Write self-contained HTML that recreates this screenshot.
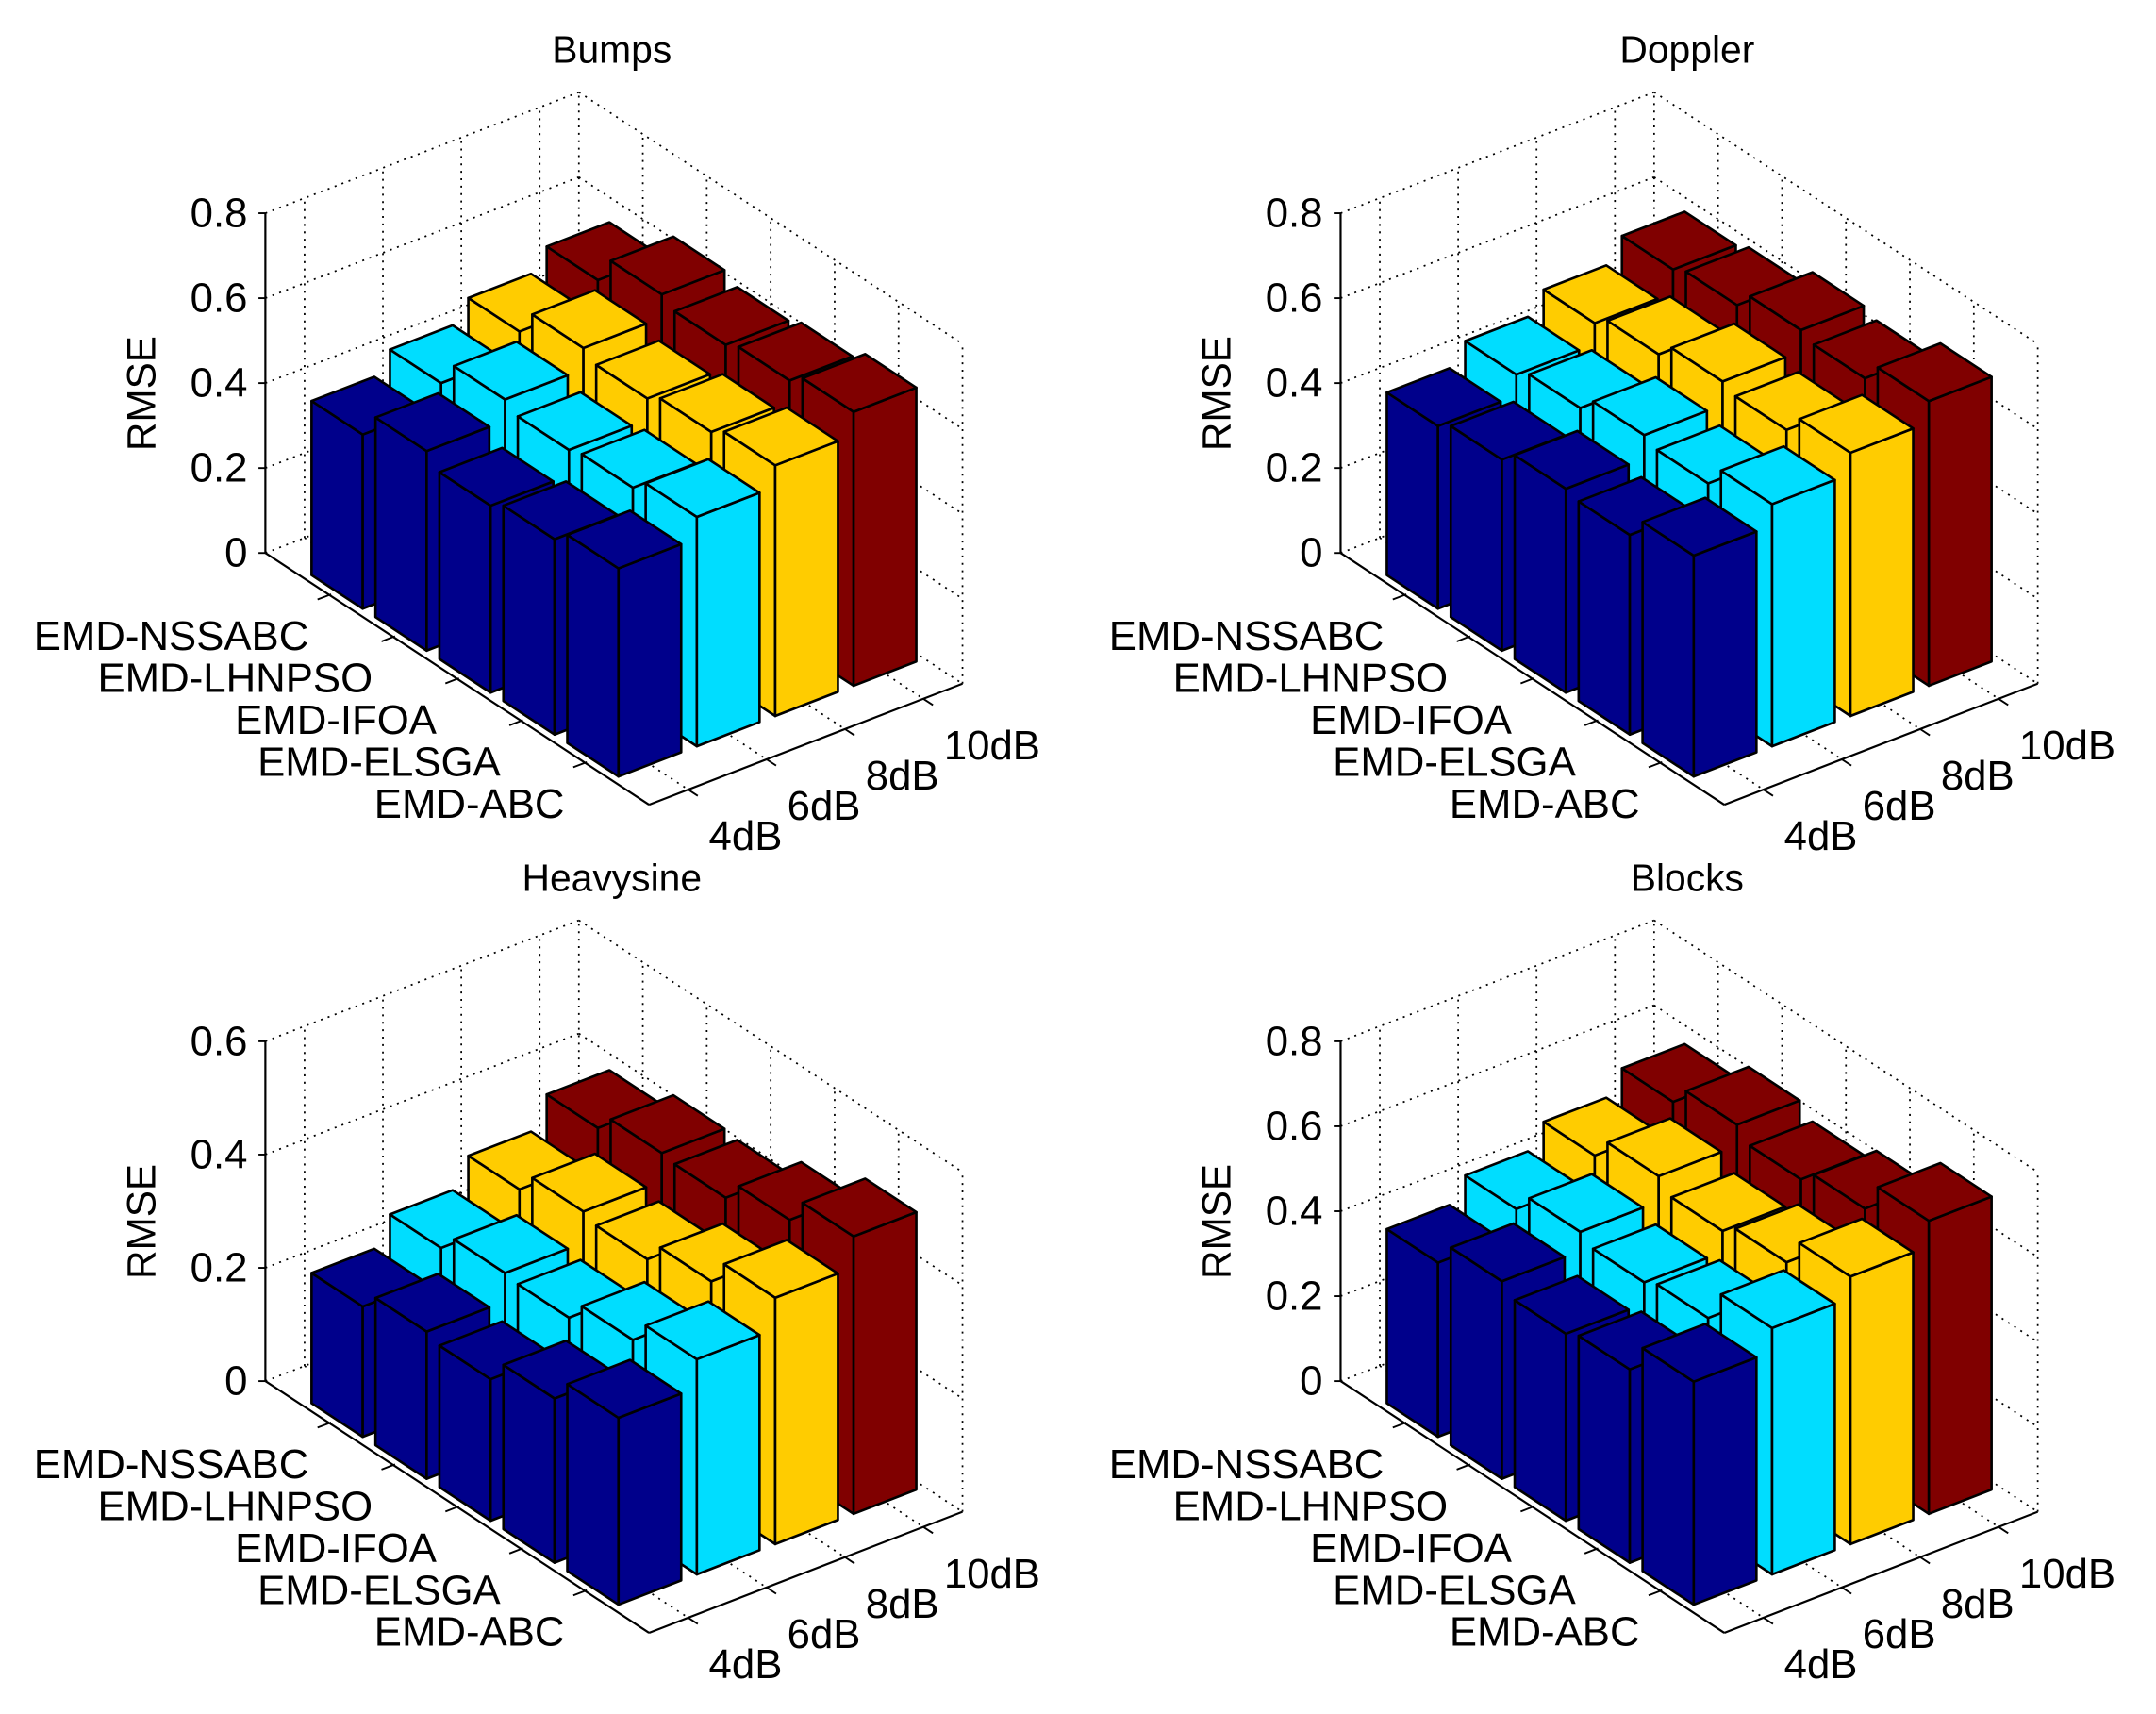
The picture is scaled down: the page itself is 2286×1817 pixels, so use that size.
<!DOCTYPE html>
<html><head><meta charset="utf-8">
<style>
html,body{margin:0;padding:0;background:#fff;}
svg{display:block;}
text{font-family:"Liberation Sans",Arial,sans-serif;fill:#000;}
</style></head>
<body>
<svg id="fig" xmlns="http://www.w3.org/2000/svg" width="2286" height="1817" viewBox="0 0 1568 1246" preserveAspectRatio="none">
<rect x="0" y="0" width="1568" height="1246" fill="#fff"/>
</svg>
<script>
const methods = ["EMD-NSSABC","EMD-LHNPSO","EMD-IFOA","EMD-ELSGA","EMD-ABC"];
const dbLabels = ["4dB","6dB","8dB","10dB"];
const panelTitles = ["Bumps","Doppler","Heavysine","Blocks"];
const zMaxes = [0.8, 0.8, 0.6, 0.8];
const zTicksA = [0, 0.2, 0.4, 0.6, 0.8];
const zTicksB = [0, 0.2, 0.4, 0.6];

const bumps4dB  = [0.41, 0.47, 0.44, 0.46, 0.49];
const bumps6dB  = [0.46, 0.52, 0.50, 0.51, 0.54];
const bumps8dB  = [0.51, 0.57, 0.55, 0.57, 0.59];
const bumps10dB = [0.56, 0.625, 0.605, 0.62, 0.645];

const doppler4dB  = [0.43, 0.45, 0.48, 0.47, 0.52];
const doppler6dB  = [0.48, 0.50, 0.535, 0.52, 0.57];
const doppler8dB  = [0.53, 0.555, 0.59, 0.575, 0.62];
const doppler10dB = [0.585, 0.60, 0.64, 0.625, 0.67];

const heavy4dB  = [0.23, 0.26, 0.25, 0.29, 0.33];
const heavy6dB  = [0.28, 0.31, 0.305, 0.34, 0.38];
const heavy8dB  = [0.33, 0.365, 0.355, 0.39, 0.435];
const heavy10dB = [0.385, 0.415, 0.41, 0.445, 0.49];

const blocks4dB  = [0.41, 0.465, 0.44, 0.455, 0.525];
const blocks6dB  = [0.465, 0.51, 0.49, 0.505, 0.58];
const blocks8dB  = [0.52, 0.57, 0.54, 0.565, 0.63];
const blocks10dB = [0.575, 0.62, 0.59, 0.62, 0.69];

const panelSeries = [
  [bumps4dB, bumps6dB, bumps8dB, bumps10dB],
  [doppler4dB, doppler6dB, doppler8dB, doppler10dB],
  [heavy4dB, heavy6dB, heavy8dB, heavy10dB],
  [blocks4dB, blocks6dB, blocks8dB, blocks10dB]
];
const colors = ["#00008B", "#00DDFF", "#FFCC00", "#800000"];

const NS = "http://www.w3.org/2000/svg";
const svg = document.getElementById("fig");
const offsets = [[0,0],[782,0],[0,602],[782,602]];

function mk(tag, attrs, parent){
  const e = document.createElementNS(NS, tag);
  for (const k in attrs) e.setAttribute(k, attrs[k]);
  parent.appendChild(e);
  return e;
}

offsets.forEach((off, pi) => {
  const ox = off[0], oy = off[1];
  const zmax = zMaxes[pi];
  const g = mk("g", {}, svg);
  
  
  function P(m, d, z){
    return [ox + 193 + 46.5*m + 57*(d-0.5), oy + 402 + 30.5*m - 22*(d-0.5) - 247*(z/zmax)];
  }
  function line(a, b, dotted, w){
    const l = mk("line", {x1:a[0], y1:a[1], x2:b[0], y2:b[1], stroke:"#000", "stroke-width": w||1.2}, g);
    if (dotted) l.setAttribute("stroke-dasharray", "1.4,4");
    return l;
  }
  const ticks = zmax > 0.7 ? zTicksA : zTicksB;
  ticks.forEach(t => { line(P(0,0.5,t), P(0,4.5,t), true); line(P(0,4.5,t), P(6,4.5,t), true); });
  for (let d = 1; d <= 4; d++) line(P(0,d,0), P(0,d,zmax), true);
  line(P(0,4.5,0), P(0,4.5,zmax), true);
  for (let m = 1; m <= 6; m++) line(P(m,4.5,0), P(m,4.5,zmax), true);
  for (let m = 1; m <= 5; m++) line(P(m,0.5,0), P(m,4.5,0), true);
  for (let d = 1; d <= 4; d++) line(P(0,d,0), P(6,d,0), true);
  const zax = line(P(0,0.5,0), P(0,0.5,zmax), false, 1.5);
  
  
  const max = line(P(0,0.5,0), P(6,0.5,0), false, 1.5);
  
  
  const dax = line(P(6,0.5,0), P(6,4.5,0), false, 1.5);
  
  
  ticks.forEach(t => {
    const p = P(0,0.5,t);
    line([p[0]-5,p[1]], p, false, 1.3);
    const tx = mk("text", {x:p[0]-13, y:p[1], "font-size":30, "text-anchor":"end", "dominant-baseline":"central"}, g);
    tx.textContent = (t === 0) ? "0" : t.toFixed(1);
    
    
  });
  methods.forEach((name, i) => {
    const m = i + 1;
    const p = P(m,0.5,0), q = P(m,0.35,0);
    line(p, q, false, 1.3);
    const tx = mk("text", {x:p[0]-15, y:p[1]+30, "font-size":30, "text-anchor":"end", "dominant-baseline":"central"}, g);
    tx.textContent = name;
    
    
  });
  dbLabels.forEach((name, j) => {
    const d = j + 1;
    const p = P(6,d,0), q = P(6.15,d,0);
    line(p, q, false, 1.3);
    const tx = mk("text", {x:p[0]+15, y:p[1]+34, "font-size":30, "text-anchor":"start", "dominant-baseline":"central"}, g);
    tx.textContent = name;
    
    
  });
  const yl = mk("text", {x:0, y:0, "font-size":29, "text-anchor":"middle", "dominant-baseline":"central", transform:"translate(" + (ox+103) + "," + (oy+286) + ") rotate(-90)"}, g);
  yl.textContent = "RMSE";
  
  
  const tt = mk("text", {x:ox+445, y:oy+36, "font-size":28, "text-anchor":"middle", "dominant-baseline":"central"}, g);
  tt.textContent = panelTitles[pi];
  
  
  const series = panelSeries[pi];
  const bars = [];
  series.forEach((vals, j) => vals.forEach((v, i) => bars.push({m:i+1, d:j+1, v:v, c:colors[j]})));
  bars.sort((a, b) => (a.m - a.d) - (b.m - b.d));
  bars.forEach(b => {
    const m0 = b.m - 0.4, m1 = b.m + 0.4, d0 = b.d - 0.4, d1 = b.d + 0.4, v = b.v;
    const bg = mk("g", {}, g);
    
    
    const poly = pts => pts.map(p => p[0].toFixed(1) + "," + p[1].toFixed(1)).join(" ");
    const st = {fill:b.c, stroke:"#000", "stroke-width":1.8, "stroke-linejoin":"round"};
    mk("polygon", Object.assign({points: poly([P(m0,d0,0), P(m1,d0,0), P(m1,d0,v), P(m0,d0,v)])}, st), bg);
    mk("polygon", Object.assign({points: poly([P(m1,d0,0), P(m1,d1,0), P(m1,d1,v), P(m1,d0,v)])}, st), bg);
    mk("polygon", Object.assign({points: poly([P(m0,d0,v), P(m1,d0,v), P(m1,d1,v), P(m0,d1,v)])}, st), bg);
  });
});
</script>
</body></html>
